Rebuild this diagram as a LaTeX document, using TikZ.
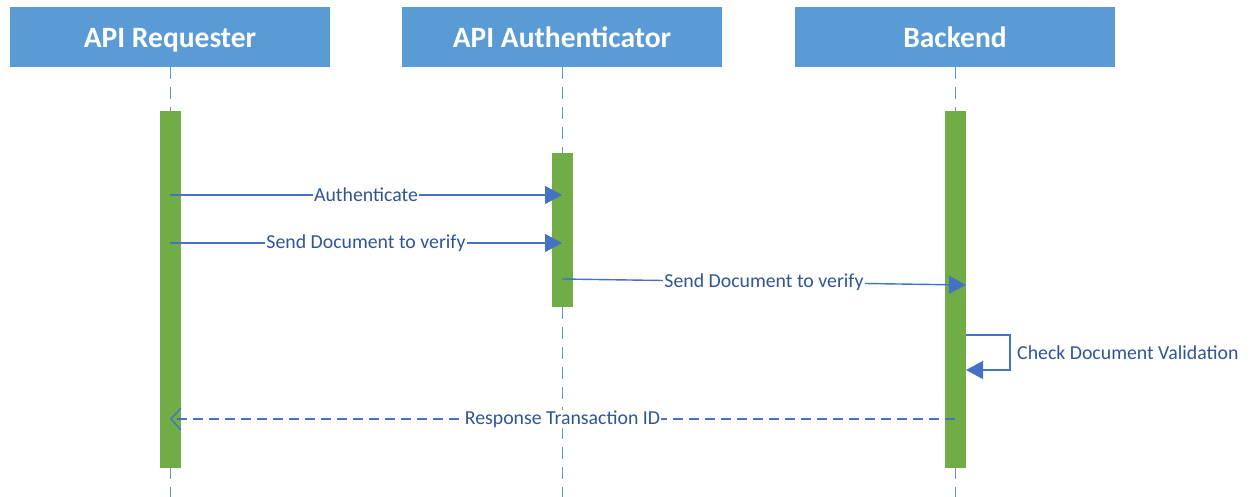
\documentclass[tikz,border=0pt]{standalone}
\usepackage{fontspec}
\setmainfont{Carlito}
\usetikzlibrary{arrows.meta}
\definecolor{hdr}{HTML}{5B9BD5}
\definecolor{act}{HTML}{70AD47}
\definecolor{msg}{HTML}{4472C4}
\definecolor{lbl}{HTML}{2F5597}
\begin{document}
\begin{tikzpicture}[x=1pt,y=-1pt,
  header/.style={fill=hdr,draw=none,minimum width=320pt,minimum height=60pt,inner sep=0pt,text height=28pt,text depth=6pt,text=white,font=\fontsize{29.5}{34}\selectfont\bfseries},
  lifeline/.style={draw=hdr,line width=1pt,dash pattern=on 12pt off 8pt},
  actbar/.style={fill=act,draw=none,minimum width=21pt,inner sep=0pt},
  msgline/.style={draw=msg,line width=1.4pt,-{Triangle[length=17pt,width=18pt]}},
  retline/.style={draw=msg,line width=1.4pt,dash pattern=on 10pt off 6pt,-{Straight Barb[length=10pt,width=22pt,line width=1.4pt]}},
  mlabel/.style={fill=white,inner sep=1pt,text=lbl,font=\fontsize{19.8}{24}\selectfont}
]
\useasboundingbox (0,0) rectangle (1254,497);
% headers
\node[header] (h1) at (170,37) {API Requester};
\node[header] (h2) at (562,37) {API Authenticator};
\node[header] (h3) at (955,37) {Backend};
% lifeline ends
\coordinate (e1) at (170,497);
\coordinate (e2) at (562,497);
\coordinate (e3) at (955,497);
\draw[lifeline] (h1.south) -- (e1);
\draw[lifeline] (h2.south) -- (e2);
\draw[lifeline] (h3.south) -- (e3);
% activation bars
\node[actbar,minimum height=357pt] (a1) at (170,289.5) {};
\node[actbar,minimum height=154pt] (a2) at (562.5,230) {};
\node[actbar,minimum height=357pt] (a3) at (955.5,289.5) {};
% message points
\coordinate (p1s) at (170,195); \coordinate (p1e) at (562,195);
\coordinate (p2s) at (170,243); \coordinate (p2e) at (562,243);
\coordinate (p3s) at (562,279); \coordinate (p3e) at (966,285);
\coordinate (l1) at (966,335); \coordinate (l2) at (1010,335);
\coordinate (l3) at (1010,370); \coordinate (l4) at (966,370);
\coordinate (r1) at (955,419); \coordinate (r2) at (170,419);
\draw[msgline] (p1s) -- node[mlabel] (t1) {Authenticate} (p1e);
\draw[msgline] (p2s) -- node[mlabel] (t2) {Send Document to verify} (p2e);
\draw[msgline] (p3s) -- node[mlabel] (t3) {Send Document to verify} (p3e);
\draw[msgline] (l1) -- (l2) -- (l3) -- (l4);
\node[anchor=west,inner sep=0pt,text=lbl,font=\fontsize{19.8}{24}\selectfont] (t4) at (1017,353) {Check Document Validation};
\draw[retline] (r1) -- node[mlabel] (t5) {Response Transaction ID} (r2);
\end{tikzpicture}
\end{document}
